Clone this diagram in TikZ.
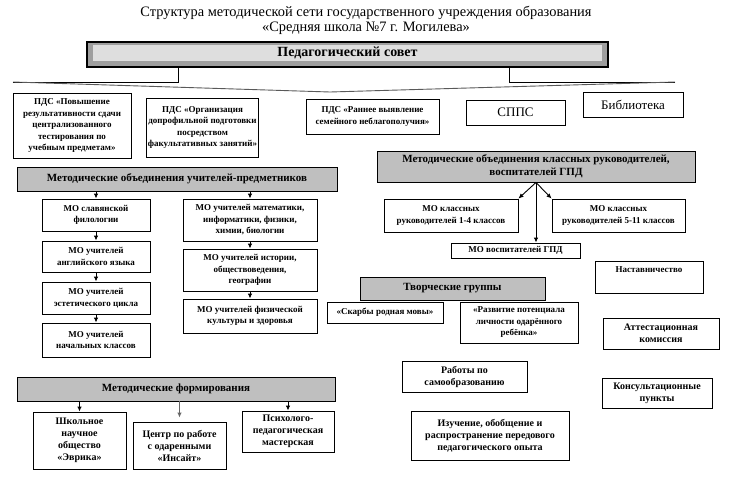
\documentclass[tikz,border=0pt]{standalone}
\usepackage{fontspec}
\setmainfont{Liberation Serif}
\usetikzlibrary{arrows.meta}
\definecolor{headgray}{rgb}{0.75, 0.75, 0.75}
\definecolor{sovetgray}{rgb}{0.62, 0.62, 0.62}
\definecolor{sovetlight}{rgb}{0.87, 0.87, 0.87}
\tikzset
  {
    mobox/.style   = {draw, line width=0.9pt, fill=white, align=center, inner sep=1pt, font=\fontsize{9}{11.5}\selectfont\bfseries},
    bigbox/.style  = {mobox, font=\fontsize{10}{12}\selectfont\bfseries},
    plainbox/.style= {mobox, font=\fontsize{13}{15}\selectfont},
    headbox/.style = {mobox, fill=headgray, font=\fontsize{11}{13}\selectfont\bfseries},
    darrow/.style  = {-{Latex[length=5pt,width=4.5pt]}, line width=0.9pt},
    vline/.style   = {line width=0.9pt, gray!70!black},
  }

\begin{document}
\begin{tikzpicture}[x=1pt, y=-1pt]
    \useasboundingbox[fill=white] (0,0) rectangle (732,498);
    \node[align=center, font=\fontsize{14.4}{15}\selectfont] (title) at (366,20) {Структура методической сети государственного учреждения образования\\«Средняя школа №7 г. Могилева»};
    \node[draw, line width=1.2pt, fill=sovetgray, minimum width=521, minimum height=25] (sovet) at (347.5,54.5) {};
    \fill[sovetlight] (93,45) rectangle (602,61);
    \node[font=\fontsize{14}{15}\selectfont\bfseries] (sovettext) at (347.5,53) {Педагогический совет};
    \coordinate (vleft) at (13,82);
    \coordinate (vmid) at (330,92);
    \coordinate (vright) at (675,82);
    \draw[line width=0.9pt] ([xshift=-169.5pt]sovet.south) |- (vleft);
    \draw[line width=0.9pt] ([xshift=161.5pt]sovet.south) |- (vright);
    \draw[vline] (vleft) -- (vmid) -- (vright);

    \node[mobox, minimum width=118, minimum height=65] (pds1) at (72,125.5) {ПДС «Повышение\\результативности сдачи\\централизованного\\тестирования по\\учебным предметам»};
    \node[mobox, minimum width=111, minimum height=59] (pds2) at (202.5,127.5) {ПДС «Организация\\допрофильной подготовки\\посредством\\факультативных занятий»};
    \node[mobox, minimum width=133, minimum height=35] (pds3) at (372.5,116.5) {ПДС «Раннее выявление\\семейного неблагополучия»};
    \node[plainbox, minimum width=99, minimum height=25] (spps) at (515.5,112.5) {СППС};
    \node[plainbox, minimum width=100, minimum height=25] (lib) at (633,104.5) {Библиотека};

    \node[headbox, minimum width=320, minimum height=24] (mou) at (177,179) {Методические объединения учителей-предметников};
    \node[mobox, minimum width=108, minimum height=32] (slav) at (96,215) {МО славянской\\филологии};
    \node[mobox, minimum width=108, minimum height=31] (engl) at (96,256.5) {МО учителей\\английского языка};
    \node[mobox, minimum width=108, minimum height=32] (est) at (96,298) {МО учителей\\эстетического цикла};
    \node[mobox, minimum width=108, minimum height=34] (nach) at (96,340) {МО учителей\\начальных классов};
    \node[mobox, minimum width=134, minimum height=42] (mat) at (250,220) {МО учителей математики,\\информатики, физики,\\химии, биологии};
    \node[mobox, minimum width=134, minimum height=42] (ist) at (250,270) {МО учителей истории,\\обществоведения,\\географии};
    \node[mobox, minimum width=134, minimum height=34] (fiz) at (250,316) {МО учителей физической\\культуры и здоровья};
    \draw[darrow] (mou.south -| slav.north) -- (slav.north);
    \draw[darrow] (slav) -- (engl);
    \draw[darrow] (engl) -- (est);
    \draw[darrow] (est) -- (nach);
    \draw[darrow] (mou.south -| mat.north) -- (mat.north);
    \draw[darrow] (mat) -- (ist);
    \draw[darrow] (ist) -- (fiz);

    \node[headbox, minimum width=318, minimum height=31] (mok) at (536,166.5) {Методические объединения классных руководителей,\\воспитателей ГПД};
    \node[mobox, minimum width=134, minimum height=33] (kl14) at (451,215.5) {МО классных\\руководителей 1-4 классов};
    \node[mobox, minimum width=133, minimum height=33] (kl511) at (618.5,215.5) {МО классных\\руководителей 5-11 классов};
    \node[mobox, minimum width=129, minimum height=15] (gpd) at (515.5,250.5) {МО воспитателей ГПД};
    \draw[darrow] (mok.south) -- (kl14.north east);
    \draw[darrow] (mok.south) -- (kl511.north west);
    \draw[darrow] (mok.south) -- (mok.south |- gpd.north);

    \node[mobox, minimum width=108, minimum height=32] (nast) at (649,277) {Наставничество\\[3pt]\mbox{}};
    \node[headbox, minimum width=185, minimum height=23] (tvor) at (452.5,288.5) {Творческие группы};
    \node[mobox, minimum width=116, minimum height=21] (skar) at (385,312.5) {«Скарбы родная мовы»};
    \node[mobox, minimum width=118, minimum height=41] (razv) at (519,322.5) {«Развитие потенциала\\личности одарённого\\ребёнка»};
    \node[bigbox, minimum width=116, minimum height=31] (att) at (661,333.5) {Аттестационная\\комиссия};
    \node[bigbox, minimum width=125, minimum height=31] (samo) at (464.5,376.5) {Работы по\\самообразованию};
    \node[bigbox, minimum width=110, minimum height=30] (kons) at (657,393) {Консультационные\\пункты};
    \node[bigbox, minimum width=158, minimum height=49] (izuch) at (490,435.5) {Изучение, обобщение и\\распространение передового\\педагогического опыта};

    \node[headbox, minimum width=318, minimum height=24] (form) at (176,389) {Методические формирования};
    \node[bigbox, minimum width=93, minimum height=57] (evr) at (79.5,440.5) {Школьное\\научное\\общество\\«Эврика»};
    \node[bigbox, minimum width=93, minimum height=47] (cent) at (179.5,445.5) {Центр по работе\\с одаренными\\«Инсайт»};
    \node[bigbox, minimum width=92, minimum height=41] (psy) at (288,431.5) {Психолого-\\педагогическая\\мастерская};
    \draw[darrow] (form.south -| evr.north) -- (evr.north);
    \draw[darrow, gray!80!black, line width=1.6pt] (form.south -| cent.north) -- ([yshift=4pt]cent.north);
    \draw[darrow] (form.south -| psy.north) -- (psy.north);
\end{tikzpicture}
\end{document}
